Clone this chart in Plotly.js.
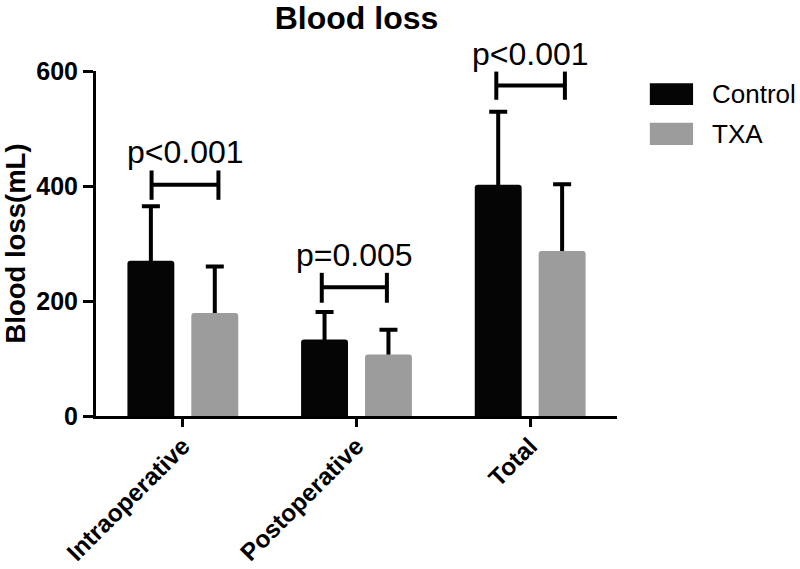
<!DOCTYPE html>
<html><head><meta charset="utf-8">
<script src="https://cdn.plot.ly/plotly-3.0.1.min.js"></script>
<style>html,body{margin:0;padding:0;background:#fff}</style>
</head><body>
<div id="chart" style="width:800px;height:569px"></div>
<script>
const categories = ['Intraoperative', 'Postoperative', 'Total'];
const seriesNames = ['Control', 'TXA'];
const controlMean = [270, 133, 402];
const controlSD = [95, 48, 127];
const txaMean = [179, 107, 287];
const txaSD = [81, 43, 116];
const pLabels = ['p<0.001', 'p=0.005', 'p<0.001'];
const bracketY = [402, 224, 575];
const bracketLow = [376, 197, 550];
const bracketHigh = [427, 249, 599];
const yTicks = [0, 200, 400, 600];

const FONT = 'Liberation Sans, Arial, Helvetica, sans-serif';
const colors = ['#050505', '#9c9c9c'];
const groups = ['ctrl', 'txa'];
const means = [controlMean, txaMean];
const sds = [controlSD, txaSD];
const bracketLeft = [-0.18, -0.20, -0.195];
const bracketRight = [0.205, 0.175, 0.20];

const traces = [];
// error bars first (drawn from the base so no foot shows), bars drawn on top
seriesNames.forEach((n, k) => {
  traces.push({
    type: 'bar', name: n + ' SD', x: categories, y: means[k], offsetgroup: groups[k],
    marker: {color: 'rgba(0,0,0,0)', line: {width: 0}},
    error_y: {type: 'data', symmetric: false, array: sds[k], arrayminus: means[k],
              color: '#000', thickness: 4, width: 9},
    showlegend: false, hoverinfo: 'none'
  });
});
seriesNames.forEach((n, k) => {
  traces.push({
    type: 'bar', name: n, x: categories, y: means[k], offsetgroup: groups[k],
    marker: {color: colors[k], cornerradius: 3, line: {width: 0}},
    showlegend: false, hoverinfo: 'none'
  });
});

const shapes = [];
const annotations = [];
categories.forEach((c, i) => {
  const x0 = i + bracketLeft[i], x1 = i + bracketRight[i];
  const line = {color: '#000', width: 4};
  shapes.push({type: 'line', xref: 'x', yref: 'y', x0: x0, x1: x1, y0: bracketY[i], y1: bracketY[i], line: line});
  shapes.push({type: 'line', xref: 'x', yref: 'y', x0: x0, x1: x0, y0: bracketLow[i], y1: bracketHigh[i], line: line});
  shapes.push({type: 'line', xref: 'x', yref: 'y', x0: x1, x1: x1, y0: bracketLow[i], y1: bracketHigh[i], line: line});
  annotations.push({
    xref: 'x', yref: 'y', x: (x0 + x1) / 2, y: bracketHigh[i], text: pLabels[i].replace('<', '&lt;'),
    showarrow: false, xanchor: 'center', yanchor: 'bottom', yshift: -2,
    font: {family: FONT, size: 32, color: '#000'}
  });
});

// legend (drawn manually to match the large swatches)
const legY = [[0.9016, 0.9644], [0.7858, 0.8503]];
seriesNames.forEach((n, k) => {
  shapes.push({type: 'rect', xref: 'paper', yref: 'paper', x0: 1.063, x1: 1.146,
    y0: legY[k][0], y1: legY[k][1], fillcolor: colors[k], line: {width: 0}});
  annotations.push({xref: 'paper', yref: 'paper', x: 1.178, y: (legY[k][0] + legY[k][1]) / 2,
    text: n, showarrow: false, xanchor: 'left', yanchor: 'middle',
    font: {family: FONT, size: 26, color: '#000'}});
});

const layout = {
  width: 800, height: 569,
  margin: {l: 96, r: 183, t: 71, b: 152.5, pad: 0},
  paper_bgcolor: '#fff', plot_bgcolor: '#fff',
  font: {family: FONT, color: '#000'},
  title: {text: 'Blood loss', x: 0.5, xref: 'paper', xanchor: 'center', y: 0.968, yanchor: 'middle',
          font: {family: FONT, size: 32, weight: 'bold', color: '#000'}},
  barmode: 'group', bargap: 0.264, bargroupgap: 0.266,
  showlegend: false,
  xaxis: {
    type: 'category', range: [-0.5, 2.5], showgrid: false, zeroline: false,
    showline: true, linecolor: '#000', linewidth: 3, layer: 'above traces',
    ticks: 'outside', ticklen: 8, tickwidth: 3, tickcolor: '#000',
    tickangle: -45, ticklabelstandoff: -5,
    tickfont: {family: FONT, size: 24.5, weight: 'bold', color: '#000'}
  },
  yaxis: {
    range: [0, 600], tickvals: yTicks, ticktext: yTicks.map(String), showgrid: false, zeroline: false,
    showline: true, linecolor: '#000', linewidth: 3, layer: 'above traces',
    ticks: 'outside', ticklen: 10, tickwidth: 3, tickcolor: '#000',
    tickfont: {family: FONT, size: 25, weight: 'bold', color: '#000'},
    title: {text: 'Blood loss(mL)', font: {family: FONT, size: 27.5, weight: 'bold', color: '#000'}, standoff: 10}
  },
  shapes: shapes,
  annotations: annotations
};

Plotly.newPlot('chart', traces, layout, {displayModeBar: false, staticPlot: true});
</script>
</body></html>
